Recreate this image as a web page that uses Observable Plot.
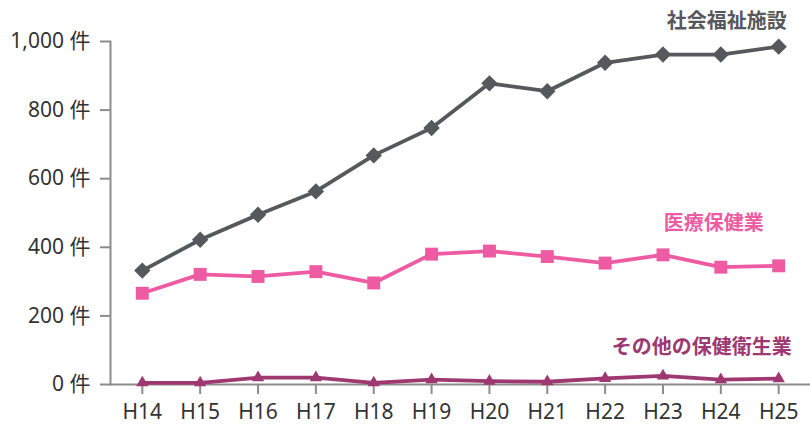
<!DOCTYPE html>
<html>
<head>
<meta charset="utf-8">
<script src="https://cdn.jsdelivr.net/npm/d3@7"></script>
<script src="https://cdn.jsdelivr.net/npm/@observablehq/plot@0.6"></script>
<style>
  html, body { margin: 0; padding: 0; background: #fff; }
  g[aria-label$="tick"] { stroke: #8c8c8c; stroke-width: 2px; }
</style>
</head>
<body>
<div id="chart"></div>
<script>
const years = ["H14","H15","H16","H17","H18","H19","H20","H21","H22","H23","H24","H25"];
const welfare = [332, 422, 495, 563, 668, 748, 878, 855, 938, 962, 962, 985];
const medical = [266, 321, 315, 329, 296, 380, 389, 373, 354, 378, 342, 346];
const otherHealth = [5, 5, 20, 20, 5, 14, 10, 8, 18, 25, 14, 17];
const seriesNames = ["社会福祉施設", "医療保健業", "その他の保健衛生業"];
const seriesValues = [welfare, medical, otherHealth];
const seriesColors = ["#57585b", "#ee5ba2", "#9e3870"];
const seriesSymbols = ["diamond2", "square", "triangle"];
const symbolR = [7.4, 7.3, 4.6];
const labelDx = [8, -15, 13];
const labelDy = [-25, -42, -31];
const yTicks = [0, 200, 400, 600, 800, 1000];

const marks = [
  Plot.ruleY([0], {stroke: "#8c8c8c", strokeWidth: 2}),
  Plot.frame({anchor: "left", stroke: "#8c8c8c", strokeWidth: 2})
];
seriesNames.forEach((name, k) => {
  const rows = years.map((year, i) => ({year, value: seriesValues[k][i], series: name}));
  marks.push(Plot.line(rows, {x: "year", y: "value", stroke: seriesColors[k], strokeWidth: 3.8}));
  marks.push(Plot.dot(rows, {x: "year", y: "value", fill: seriesColors[k], stroke: "none", symbol: seriesSymbols[k], r: symbolR[k]}));
  marks.push(Plot.text([rows[rows.length - 1]], {
    x: "year", y: "value", text: d => d.series, textAnchor: "end",
    dx: labelDx[k], dy: labelDy[k], fill: seriesColors[k],
    fontSize: 20, fontWeight: "bold"
  }));
});

const chart = Plot.plot({
  width: 810,
  height: 424,
  marginLeft: 110,
  marginRight: 0,
  marginTop: 41,
  marginBottom: 40,
  style: {fontFamily: "'Noto Sans', 'Noto Sans CJK JP', sans-serif", fontSize: "21px", color: "#333", background: "#fff", overflow: "visible"},
  x: {domain: years, type: "point", padding: 0.55, round: false, label: null, tickSize: 10, tickPadding: 10},
  y: {domain: [0, 1000], ticks: yTicks, tickFormat: d => d3.format(",")(d) + " 件", tickSize: 10, tickPadding: 10, label: null},
  marks
});
document.getElementById("chart").appendChild(chart);
</script>
</body>
</html>
